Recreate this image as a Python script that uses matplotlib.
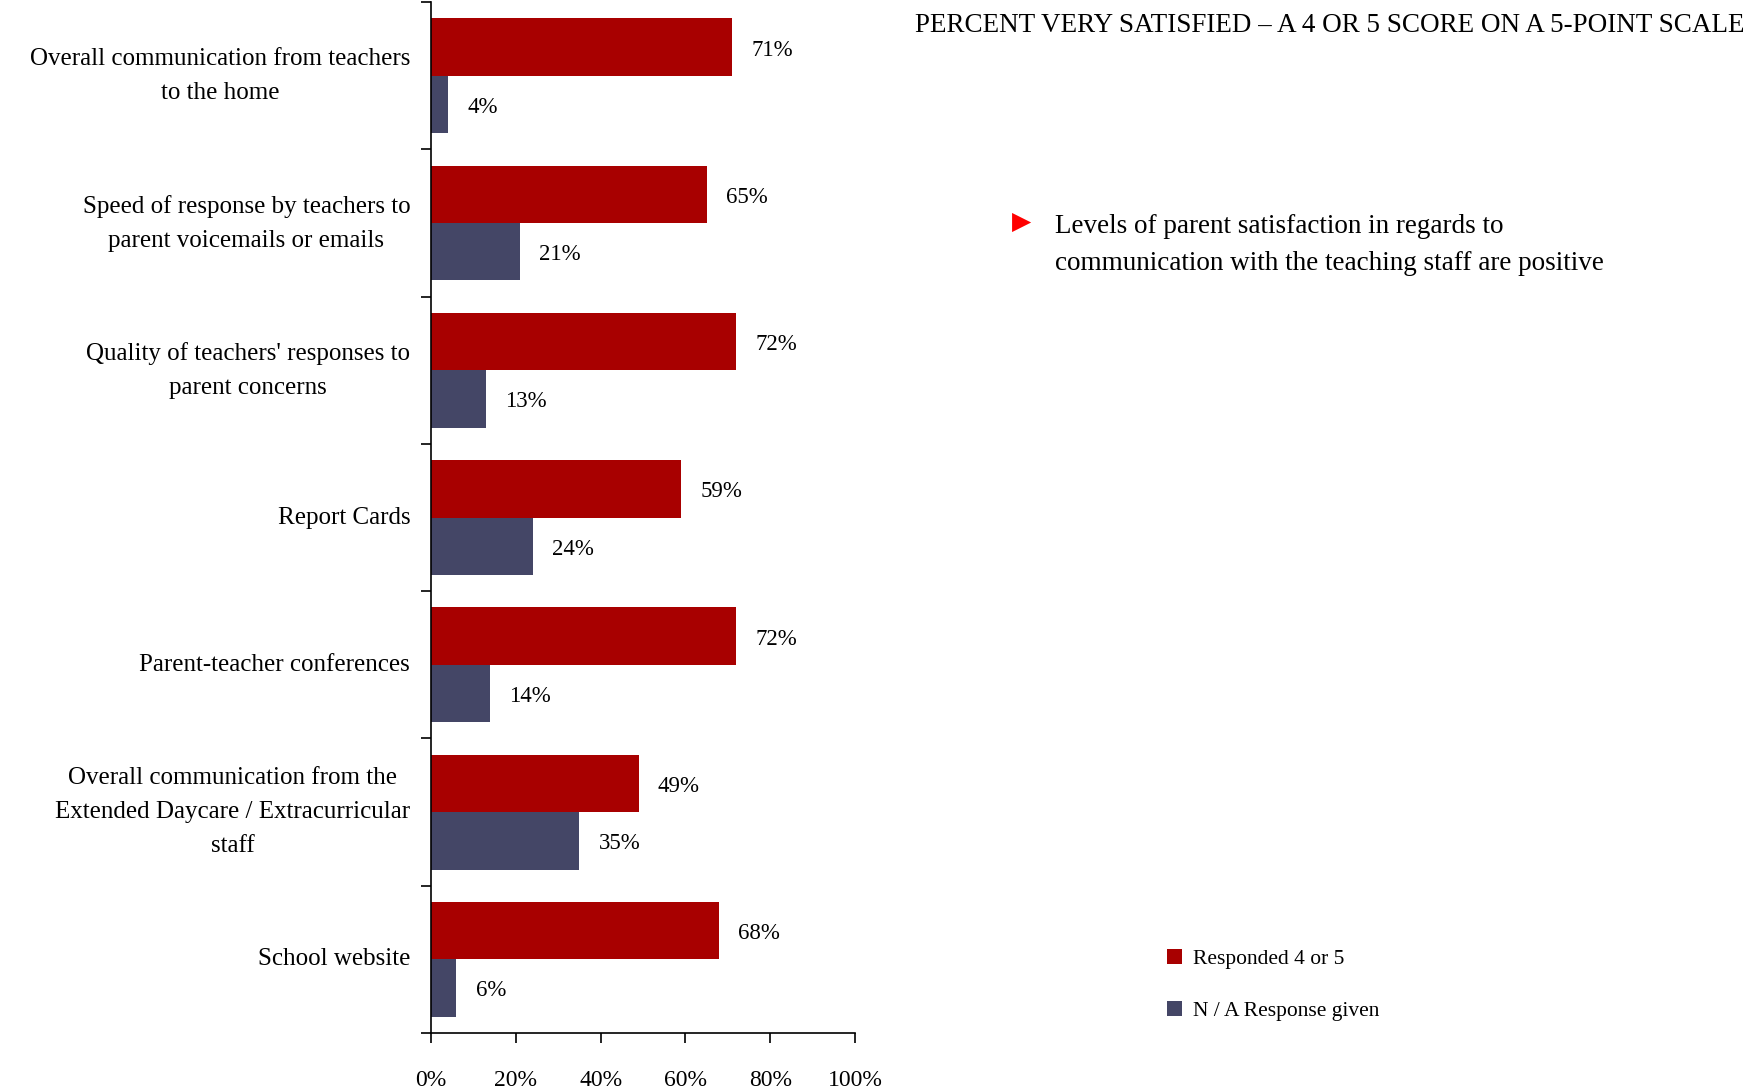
import numpy as np
import matplotlib.pyplot as plt
from matplotlib.ticker import FixedLocator, PercentFormatter

plt.rcParams['font.family'] = ['Liberation Serif', 'DejaVu Serif']

# data
categories = ["Overall communication from teachers\nto the home",
              "Speed of response by teachers to\nparent voicemails or emails",
              "Quality of teachers' responses to\nparent concerns",
              "Report Cards",
              "Parent-teacher conferences",
              "Overall communication from the\nExtended Daycare / Extracurricular\nstaff",
              "School website"]
responded = [71, 65, 72, 59, 72, 49, 68]
na_given = [4, 21, 13, 24, 14, 35, 6]
series_names = ["Responded 4 or 5", "N / A Response given"]
red = '#A80000'
navy = '#444666'

fig = plt.figure(figsize=(17.47, 10.91), dpi=100)
ax = fig.add_axes([0.2467, 0.0532, 0.2427, 0.9448])

y = np.arange(len(categories))
h = 0.39
b1 = ax.barh(y - h / 2, responded, height=h, color=red, label=series_names[0])
b2 = ax.barh(y + h / 2, na_given, height=h, color=navy, label=series_names[1])

for bars, vals in ((b1, responded), (b2, na_given)):
    for rect, v in zip(bars, vals):
        ax.text(v + 4.5, rect.get_y() + rect.get_height() / 2 + 0.02, f'{v}%',
                va='center', ha='left', fontsize=16.5)

ax.set_xlim(0, 100)
ax.set_ylim(len(categories) - 0.5, -0.5)
ax.set_xticks(np.arange(0, 101, 20))
ax.xaxis.set_major_formatter(PercentFormatter(decimals=0))
ax.set_yticks(y)
ax.set_yticklabels(categories, multialignment='center', linespacing=1.7,
                   va='center')
ax.yaxis.set_minor_locator(FixedLocator(np.arange(-0.5, len(categories), 1)))
ax.tick_params(axis='y', which='major', length=0, pad=15, labelsize=18)
ax.tick_params(axis='y', which='minor', length=7, width=1.2, direction='out')
ax.tick_params(axis='x', length=7, width=1.2, pad=20, labelsize=17)
for s in ('top', 'right'):
    ax.spines[s].set_visible(False)
for s in ('left', 'bottom'):
    ax.spines[s].set_linewidth(1.2)

fig.text(0.9983, 0.977, "PERCENT VERY SATISFIED \u2013 A 4 OR 5 SCORE ON A 5-POINT SCALE",
         ha='right', va='center', fontsize=19.5)

fig.text(0.585, 0.797, "\u25B6", color='#FF0000', ha='center', va='center',
         fontsize=18, family='DejaVu Sans')
fig.text(0.604, 0.804, "Levels of parent satisfaction in regards to\n"
         "communication with the teaching staff are positive",
         ha='left', va='top', fontsize=19.5, linespacing=1.62)

fig.legend(handles=[b1, b2], labels=series_names, loc='upper left',
           bbox_to_anchor=(0.657, 0.148), frameon=False, fontsize=15.5,
           handlelength=0.7, handleheight=0.7, handletextpad=0.5,
           labelspacing=1.5)

fig.savefig('out.png', dpi=100)
